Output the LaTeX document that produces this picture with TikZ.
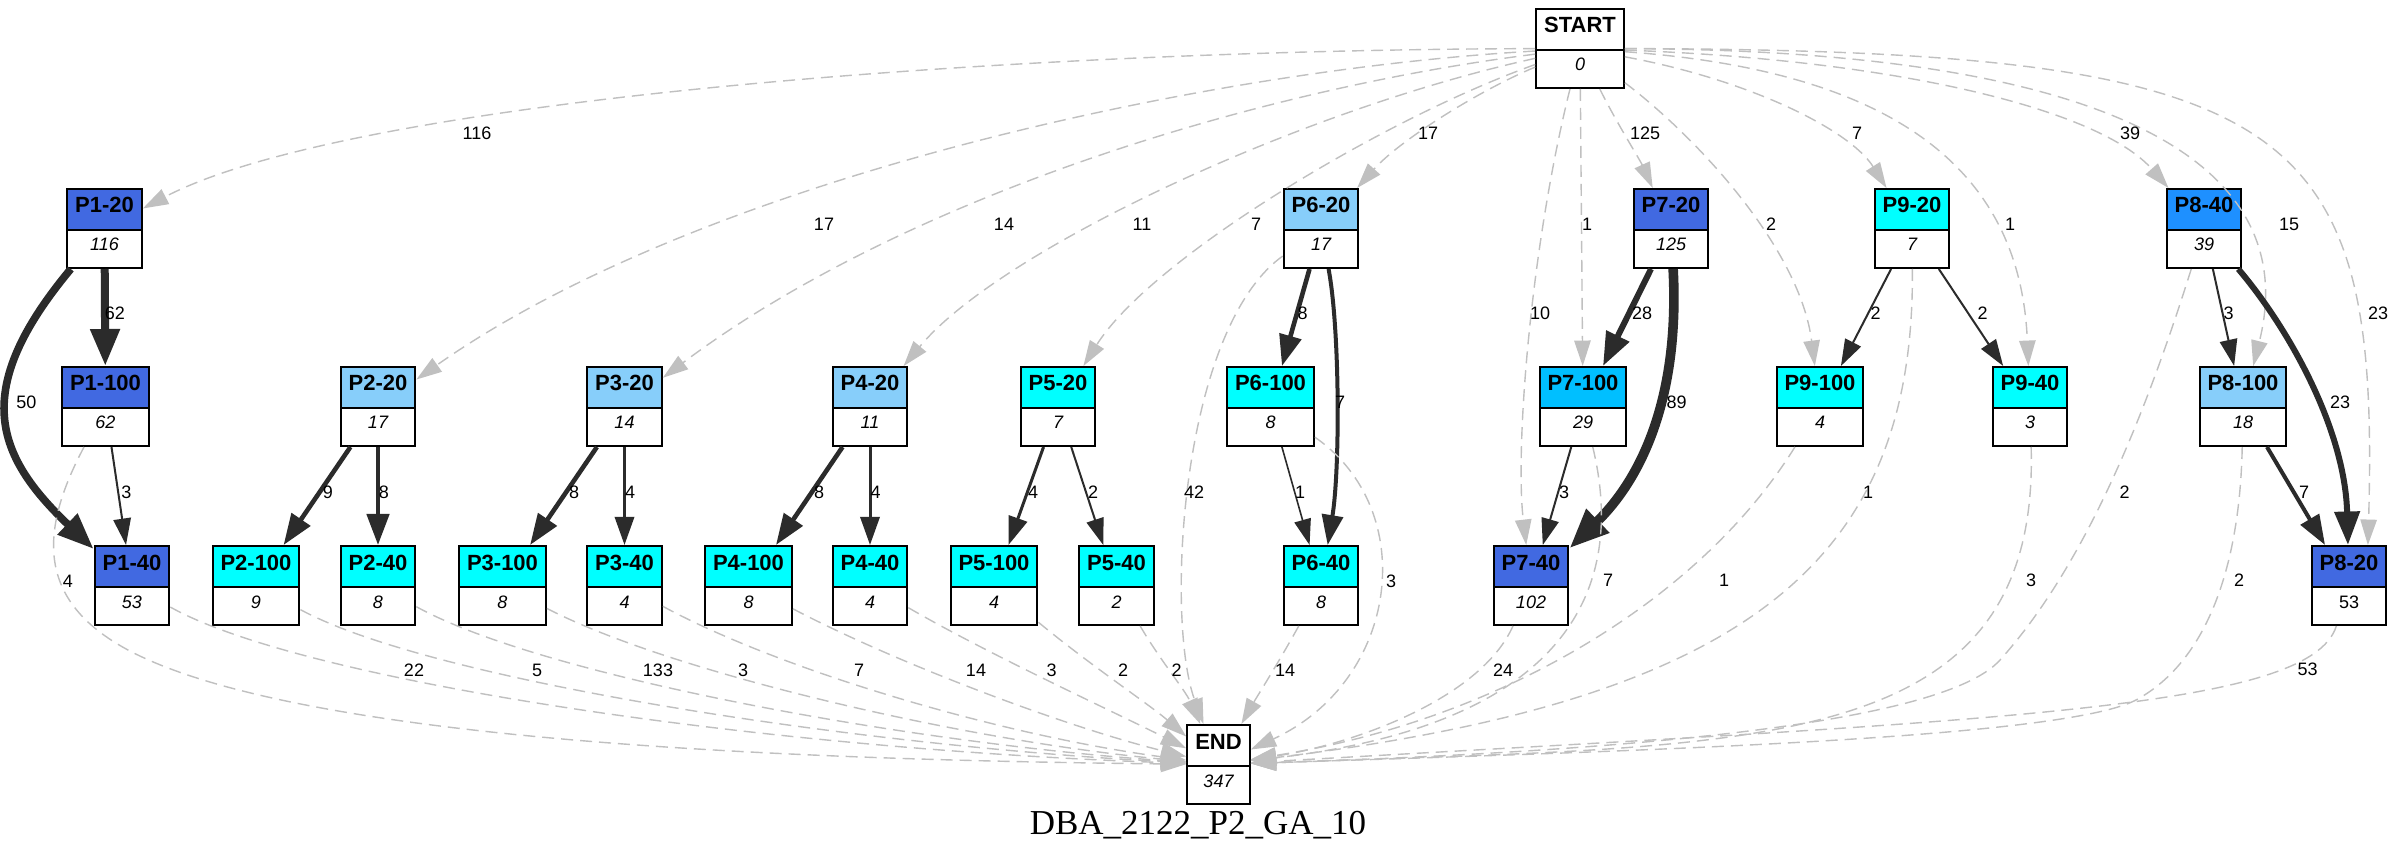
\documentclass[tikz,border=0pt]{standalone}
\usepackage{fontspec}
\setmainfont{Liberation Sans}
\newfontfamily\capfont{Liberation Serif}
\usetikzlibrary{shapes.multipart,arrows.meta}

\definecolor{royal}{HTML}{4169E1}
\definecolor{sky}{HTML}{87CEFA}
\definecolor{aqua}{HTML}{00FFFF}
\definecolor{dodger}{HTML}{1E90FF}
\definecolor{deepsky}{HTML}{00BFFF}
\definecolor{edgedark}{HTML}{2B2B2B}
\definecolor{edgegray}{HTML}{C0C0C0}

\tikzset{
  box/.style={rectangle split, rectangle split parts=2, draw, line width=1pt,
    inner xsep=4pt, inner ysep=0pt, anchor=north,
    font=\bfseries\fontsize{11}{13}\selectfont},
  flow/.style={edgedark, line width=#1, -{Triangle[length=11.5pt 1.75, width=7pt 1.75]}},
  skip/.style={edgegray, line width=0.7pt, dash pattern=on 6pt off 3.5pt,
    -{Triangle[length=11.5pt 1.75, width=7pt 1.75]}},
  elab/.style={font=\fontsize{9}{11}\selectfont, inner sep=1pt},
}

\begin{document}
\begin{tikzpicture}[x=0.5pt, y=-0.5pt]
  \path[use as bounding box, fill=white] (0,0) rectangle (2400,861);

  % boxes: name / x / top / label / count / colour
  \foreach \nm/\px/\py/\lab/\cnt/\col in {
      start/1580/8/START/0/white, end/1218.5/724/END/347/white,
      p1-20/104.5/188/P1-20/116/royal, p6-20/1321/188/P6-20/17/sky,
      p7-20/1671/188/P7-20/125/royal, p9-20/1912/188/P9-20/7/aqua,
      p8-40/2204/188/P8-40/39/dodger,
      p1-100/105.5/366/P1-100/62/royal, p2-20/378/366/P2-20/17/sky,
      p3-20/624.5/366/P3-20/14/sky, p4-20/870/366/P4-20/11/sky,
      p5-20/1058/366/P5-20/7/aqua, p6-100/1270.5/366/P6-100/8/aqua,
      p7-100/1583/366/P7-100/29/deepsky, p9-100/1820/366/P9-100/4/aqua,
      p9-40/2030/366/P9-40/3/aqua, p8-100/2243/366/P8-100/18/sky,
      p1-40/132/545/P1-40/53/royal, p2-100/256/545/P2-100/9/aqua,
      p2-40/378/545/P2-40/8/aqua, p3-100/502.5/545/P3-100/8/aqua,
      p3-40/624.5/545/P3-40/4/aqua, p4-100/748.5/545/P4-100/8/aqua,
      p4-40/870/545/P4-40/4/aqua, p5-100/994/545/P5-100/4/aqua,
      p5-40/1116.5/545/P5-40/2/aqua, p6-40/1321/545/P6-40/8/aqua,
      p7-40/1531/545/P7-40/102/royal, p8-20/2349/545/P8-20/{\upshape 53}/royal}
    \node[box, rectangle split part fill={\col,white}] (\nm) at (\px,\py)
      {\rule[-8pt]{0pt}{19.5pt}\lab\nodepart{two}\rule[-8pt]{0pt}{18pt}{\mdseries\itshape\fontsize{9}{11}\selectfont\cnt}};

  % from START
  \draw[skip] (start) .. controls (1000,50) and (350,100) .. (p1-20);
  \draw[skip] (start) .. controls (1200,70) and (700,180) .. (p2-20);
  \draw[skip] (start) .. controls (1250,90) and (900,200) .. (p3-20);
  \draw[skip] (start) .. controls (1300,110) and (1000,250) .. (p4-20);
  \draw[skip] (start) .. controls (1380,120) and (1150,260) .. (p5-20);
  \draw[skip] (start) .. controls (1480,90) and (1400,140) .. (p6-20);
  \draw[skip] (start) .. controls (1530,250) and (1515,450) .. (p7-40);
  \draw[skip] (start) -- (p7-100);
  \draw[skip] (start) .. controls (1615,120) and (1640,160) .. (p7-20);
  \draw[skip] (start) .. controls (1700,140) and (1800,250) .. (p9-100);
  \draw[skip] (start) .. controls (1750,80) and (1850,130) .. (p9-20);
  \draw[skip] (start) .. controls (1880,70) and (2020,160) .. (p9-40);
  \draw[skip] (start) .. controls (1900,60) and (2100,110) .. (p8-40);
  \draw[skip] (start) .. controls (2150,50) and (2300,180) .. (p8-100);
  \draw[skip] (start) .. controls (2300,50) and (2380,120) .. (p8-20.65);

  % between the boxes
  \foreach \a/\b/\w in {p1-20/p1-100/4pt, p1-100/p1-40/1pt, p2-20/p2-100/2.3pt,
      p2-20/p2-40/2.3pt, p3-20/p3-100/2.3pt, p3-20/p3-40/1.5pt, p4-20/p4-100/2.3pt,
      p4-20/p4-40/1.5pt, p5-20/p5-100/1.5pt, p5-20/p5-40/1pt, p6-20/p6-100/2.3pt,
      p6-100/p6-40/0.8pt, p7-20/p7-100/3pt, p7-100/p7-40/1pt, p9-20/p9-100/1pt,
      p9-20/p9-40/1pt, p8-40/p8-100/1pt, p8-100/p8-20/2pt}
    \draw[flow=\w] (\a) -- (\b);
  \draw[flow=3.8pt] (p1-20) .. controls (-30,390) and (-5,455) .. (p1-40);
  \draw[flow=2pt] (p6-20) .. controls (1340,330) and (1340,470) .. (p6-40);
  \draw[flow=4.8pt] (p7-20) .. controls (1680,400) and (1640,480) .. (p7-40);
  \draw[flow=3pt] (p8-40) .. controls (2290,330) and (2345,430) .. (p8-20);

  % into END
  \foreach \nm/\ax/\ay/\bx/\by in {p1-40/300/680/750/748, p2-100/430/680/850/745,
      p2-40/540/675/900/742, p3-100/670/672/960/740, p3-40/780/670/1000/735,
      p4-100/900/665/1070/728, p4-40/990/655/1110/710, p5-100/1090/665/1150/705,
      p5-40/1160/660/1185/690, p6-20/1180/330/1165/620, p6-40/1280/660/1255/700,
      p6-100/1420/510/1400/680, p7-40/1480/700/1350/745, p7-100/1620/560/1600/720,
      p9-20/1915/560/1750/700, p9-100/1700/600/1500/720, p9-40/2040/760/1750/745,
      p8-20/2310/710/2000/720}
    \draw[skip] (\nm) .. controls (\ax,\ay) and (\bx,\by) .. (end);
  \draw[skip] (p1-100) .. controls (40,530) and (35,600) .. (128,650)
    .. controls (300,742) and (800,760) .. (end);
  \draw[skip] (p8-40) .. controls (2150,400) and (2090,560) .. (2000,660)
    .. controls (1940,727) and (1600,752) .. (end);
  \draw[skip] (p8-100) .. controls (2240,560) and (2210,660) .. (2136,700)
    .. controls (2060,740) and (1600,752) .. (end);

  % edge labels
  \foreach \px/\py/\txt [count=\i] in {477/133/116, 824/224/17, 1004/224/14,
      1142/224/11, 1256/224/7, 1428/133/17, 1540/313/10, 1587/224/1, 1645/133/125,
      1771/224/2, 1857/133/7, 2010/224/1, 2130/133/39, 2289/224/15, 2378/313/23,
      115/313/62, 26.5/402/50, 126.5/492/3, 328/492/9, 384/492/8, 574/492/8,
      630/492/4, 819/492/8, 875.5/492/4, 1033/492/4, 1093/492/2, 1302.5/313/8,
      1340/402/7, 1300/492/1, 1642/313/28, 1676.5/402/89, 1564/492/3,
      1875.5/313/2, 1982.6/313/2, 2228.6/313/3, 2340/402/23, 2304/492/7,
      68/581/4, 414/670/22, 537/670/5, 658/670/133, 743/670/3, 859/670/7,
      976/670/14, 1051.5/670/3, 1123/670/2, 1176.5/670/2, 1194/492/42,
      1285/670/14, 1391/581/3, 1503/670/24, 1608/580/7, 1868/492/1, 1724/580/1,
      2031/580/3, 2124.5/492/2, 2239/580/2, 2307.6/669/53}
    \node[elab] (lab\i) at (\px,\py) {\txt};

  \node[font=\capfont\fontsize{17.5}{20}\selectfont, anchor=base] (title) at (1198,834) {DBA\_2122\_P2\_GA\_10};
\end{tikzpicture}
\end{document}
